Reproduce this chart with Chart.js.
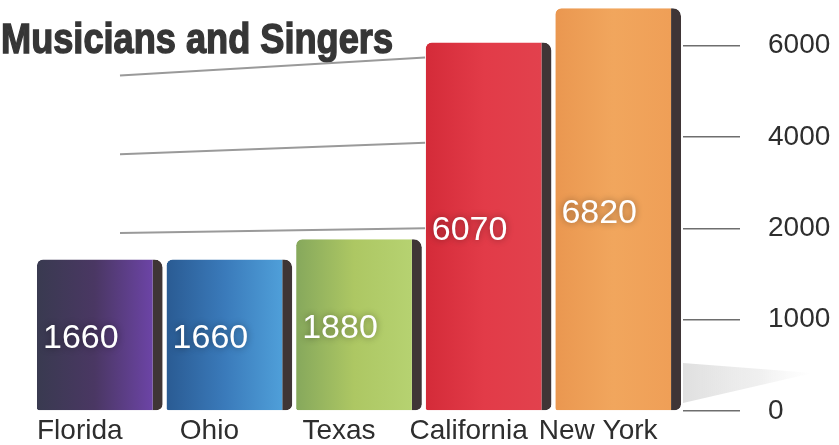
<!DOCTYPE html>
<html>
<head>
<meta charset="utf-8">
<script src="https://cdn.jsdelivr.net/npm/chart.js@4.4.1/dist/chart.umd.min.js"></script>
<style>
  html, body { margin: 0; padding: 0; background: #fff; }
  #wrap { width: 839px; height: 445px; position: relative; }
</style>
</head>
<body>
<div id="wrap"><canvas id="musiciansChart"></canvas></div>
<script>
    'use strict';

    // Chart data
    const categories = ['Florida', 'Ohio', 'Texas', 'California', 'New York'];
    const employed = [1660, 1660, 1880, 6070, 6820];
    const tickValues = [0, 1000, 2000, 4000, 6000];
    // the printed axis spaces its ticks evenly even though the steps differ
    const scaleStops = [0, 1000, 2000, 4000, 6000, 8000];
    const chartTitle = 'Musicians and Singers';

    // left / middle / right shade of each bar front
    const barShades = [
        ['#393a50', '#4a3763', '#6c44a6'],
        ['#2a5b93', '#3a7aba', '#4f9fd9'],
        ['#86a85c', '#adc763', '#b6d271'],
        ['#d42b39', '#e23b48', '#e2414d'],
        ['#ea9750', '#f1a65d', '#ef9f57']
    ];
    const sideWidth = 10;

    // even steps between uneven tick values
    class StepScale extends Chart.LinearScale {
        static id = 'step';
        static defaults = Chart.LinearScale.defaults;

        toStep(value) {
            for (let i = 1; i < scaleStops.length; i++) {
                if (value <= scaleStops[i] || i === scaleStops.length - 1) {
                    const lo = scaleStops[i - 1], hi = scaleStops[i];
                    return (i - 1) + (value - lo) / (hi - lo);
                }
            }
            return 0;
        }
        buildTicks() {
            return tickValues.map(v => ({ value: v }));
        }
        getPixelForValue(value) {
            return this.getPixelForDecimal(this.toStep(value) / this.toStep(this.max));
        }
        getValueForPixel(pixel) {
            const s = this.getDecimalForPixel(pixel) * this.toStep(this.max);
            const i = Math.min(Math.floor(s), scaleStops.length - 2);
            return scaleStops[i] + (s - i) * (scaleStops[i + 1] - scaleStops[i]);
        }
    }
    Chart.register(StepScale);

    function barFill(ctx) {
        const chart = ctx.chart;
        const shades = barShades[ctx.dataIndex];
        const area = chart.chartArea;
        if (!area || !chart.scales.x) {
            return shades[1];
        }
        const x = chart.scales.x.getPixelForValue(ctx.dataIndex);
        const w = area.width / categories.length * 0.97;
        const g = chart.ctx.createLinearGradient(x - w / 2, 0, x + w / 2 - sideWidth, 0);
        g.addColorStop(0, shades[0]);
        g.addColorStop(0.5, shades[1]);
        g.addColorStop(1, shades[2]);
        return g;
    }

    // bold condensed headline top left
    const titlePlugin = {
        id: 'headline',
        beforeDraw(chart) {
            const c = chart.ctx;
            c.save();
            c.fillStyle = '#363636';
            c.strokeStyle = '#363636';
            c.lineWidth = 1.4;
            c.font = "bold 42px 'Liberation Sans', Arial, sans-serif";
            c.textBaseline = 'alphabetic';
            const w = c.measureText(chartTitle).width;
            c.translate(1, 53);
            c.scale(392 / w, 1);
            c.fillText(chartTitle, 0, 0);
            c.strokeText(chartTitle, 0, 0);
            c.restore();
        }
    };

    // slanted guide lines behind the bars, soft shadow at the base
    const guidePlugin = {
        id: 'guides',
        beforeDatasetsDraw(chart) {
            const c = chart.ctx;
            const y = chart.scales.y;
            const x = chart.scales.x;
            const area = chart.chartArea;
            const right = x.getPixelForValue(3) - area.width / categories.length * 0.49;
            c.save();
            c.strokeStyle = '#9a9a9a';
            c.lineWidth = 2;
            tickValues.filter(v => v >= 2000).forEach(v => {
                const py = y.getPixelForValue(v);
                const offL = 0.138 * (262 - py);
                const offR = 0.066 * (226 - py);
                c.beginPath();
                c.moveTo(120, py + offL);
                c.lineTo(right, py + offR);
                c.stroke();
            });

            const base = y.getPixelForValue(0);
            const g = c.createLinearGradient(area.right, 0, area.right + 130, 0);
            g.addColorStop(0, 'rgba(185,185,185,0.45)');
            g.addColorStop(0.6, 'rgba(205,205,205,0.3)');
            g.addColorStop(1, 'rgba(230,230,230,0)');
            c.fillStyle = g;
            c.beginPath();
            c.moveTo(area.right, base - 48);
            c.lineTo(area.right + 130, base - 38);
            c.lineTo(area.right, base - 8);
            c.closePath();
            c.fill();
            c.restore();
        }
    };

    // white numbers in the middle of each bar
    const valuePlugin = {
        id: 'values',
        afterDatasetsDraw(chart) {
            const c = chart.ctx;
            const meta = chart.getDatasetMeta(0);
            c.save();
            c.font = "34px 'Liberation Sans', Arial, sans-serif";
            c.textAlign = 'center';
            c.textBaseline = 'middle';
            meta.data.forEach((bar, i) => {
                const cx = bar.x - sideWidth / 2 - 14;
                const cy = (bar.y + bar.base) / 2 + 4;
                c.shadowColor = 'rgba(0,0,0,0.4)';
                c.shadowBlur = 7;
                c.fillStyle = '#ffffff';
                c.fillText(String(employed[i]), cx, cy);
            });
            c.restore();
        }
    };

    Chart.defaults.font.family = "'Liberation Sans', Arial, sans-serif";
    Chart.defaults.color = '#333333';

    new Chart(document.getElementById('musiciansChart'), {
        type: 'bar',
        data: {
            labels: categories,
            datasets: [
                {
                    label: 'Employed',
                    data: employed,
                    backgroundColor: barFill,
                    borderColor: '#3f3536',
                    borderWidth: { top: 0, right: sideWidth, bottom: 0, left: 0 },
                    borderSkipped: false,
                    borderRadius: { topLeft: 6, topRight: 8, bottomLeft: 2, bottomRight: 6 },
                    categoryPercentage: 1,
                    barPercentage: 0.97
                }
            ]
        },
        options: {
            responsive: true,
            maintainAspectRatio: false,
            animation: false,
            layout: {
                padding: { left: 35, top: 0, right: 0, bottom: 0 }
            },
            plugins: {
                legend: { display: false },
                title: { display: false },
                tooltip: { enabled: false }
            },
            scales: {
                x: {
                    type: 'category',
                    grid: { display: false, drawTicks: false },
                    border: { display: false },
                    ticks: {
                        font: { size: 28 },
                        color: '#2e2e2e',
                        padding: 3,
                        labelOffset: -20
                    },
                    afterFit(axis) {
                        axis.height = 34;
                        axis.paddingLeft = 0;
                        axis.paddingRight = 0;
                    }
                },
                y: {
                    type: 'step',
                    position: 'right',
                    min: 0,
                    max: 7000,
                    border: { display: false },
                    grid: {
                        drawOnChartArea: false,
                        drawTicks: true,
                        tickLength: 57,
                        color: '#6e6e6e',
                        lineWidth: 1.5
                    },
                    ticks: {
                        padding: 28,
                        font: { size: 28 },
                        color: '#2e2e2e',
                        callback: v => String(v)
                    },
                    afterFit(axis) {
                        axis.width = 156;
                        axis.paddingTop = 0;
                        axis.paddingBottom = 0;
                    }
                }
            }
        },
        plugins: [titlePlugin, guidePlugin, valuePlugin]
    });
</script>
</body>
</html>
